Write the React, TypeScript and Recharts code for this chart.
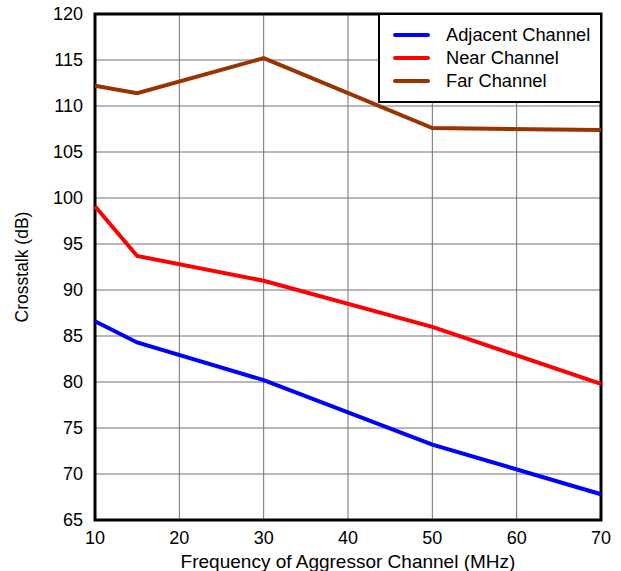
import React from "react";
import { LineChart, Line, XAxis, YAxis, CartesianGrid, ReferenceArea } from "recharts";

const frequencies = [10, 15, 30, 50, 70];
const adjacentChannel = [86.6, 84.3, 80.2, 73.2, 67.8];
const nearChannel = [99.1, 93.7, 91.0, 86.0, 79.8];
const farChannel = [112.2, 111.4, 115.2, 107.6, 107.4];
const xTicks = [10, 20, 30, 40, 50, 60, 70];
const yTicks = [65, 70, 75, 80, 85, 90, 95, 100, 105, 110, 115, 120];

const seriesInfo = [
  { key: "adjacent", name: "Adjacent Channel", color: "#0000ff" },
  { key: "near", name: "Near Channel", color: "#ff0000" },
  { key: "far", name: "Far Channel", color: "#993300" },
];

const data = frequencies.map((f, i) => ({
  freq: f,
  adjacent: adjacentChannel[i],
  near: nearChannel[i],
  far: farChannel[i],
}));

const FONT = "'Liberation Sans', Arial, sans-serif";

const LegendBox = () => (
  <div
    style={{
      position: "absolute",
      left: 378,
      top: 13,
      width: 224,
      height: 90,
      boxSizing: "border-box",
      border: "2px solid #000",
      background: "#fff",
      fontFamily: FONT,
      fontSize: 18.3,
      color: "#000",
    }}
  >
    {seriesInfo.map((s, i) => (
      <div
        key={s.key}
        style={{ position: "absolute", left: 0, top: 8 + i * 23, height: 24, display: "flex", alignItems: "center", whiteSpace: "nowrap" }}
      >
        <div style={{ width: 37, height: 4, background: s.color, marginLeft: 13, marginRight: 16, borderRadius: 2 }} />
        <span>{s.name}</span>
      </div>
    ))}
  </div>
);

export default function App() {
  return (
    <div style={{ position: "fixed", left: 0, top: 0, width: 621, height: 571, background: "#fff" }}>
      <LineChart
        width={621}
        height={571}
        data={data}
        margin={{ top: 14, right: 20, bottom: 0, left: 0 }}
        style={{ fontFamily: FONT }}
      >
        <CartesianGrid stroke="#707070" strokeWidth={1} />
        <XAxis
          dataKey="freq"
          type="number"
          domain={[10, 70]}
          ticks={xTicks}
          tickLine={false}
          axisLine={false}
          height={51}
          tick={{ fill: "#000", fontSize: 18, fontFamily: FONT }}
          tickMargin={5}
          label={{ value: "Frequency of Aggressor Channel (MHz)", position: "insideBottom", offset: 3, fill: "#000", fontSize: 19, fontFamily: FONT }}
        />
        <YAxis
          type="number"
          domain={[65, 120]}
          ticks={yTicks}
          tickLine={false}
          axisLine={false}
          width={95}
          tick={{ fill: "#000", fontSize: 18, fontFamily: FONT }}
          tickMargin={6}
          label={{ value: "Crosstalk (dB)", angle: -90, position: "insideLeft", offset: 22, fill: "#000", fontSize: 17.5, fontFamily: FONT, style: { textAnchor: "middle" } }}
        />
        <ReferenceArea x1={10} x2={70} y1={65} y2={120} fill="none" stroke="#000" strokeWidth={3} />
        {seriesInfo.map((s) => (
          <Line
            key={s.key}
            dataKey={s.key}
            name={s.name}
            stroke={s.color}
            strokeWidth={4}
            dot={false}
            isAnimationActive={false}
            type="linear"
          />
        ))}
      </LineChart>
      <LegendBox />
    </div>
  );
}
